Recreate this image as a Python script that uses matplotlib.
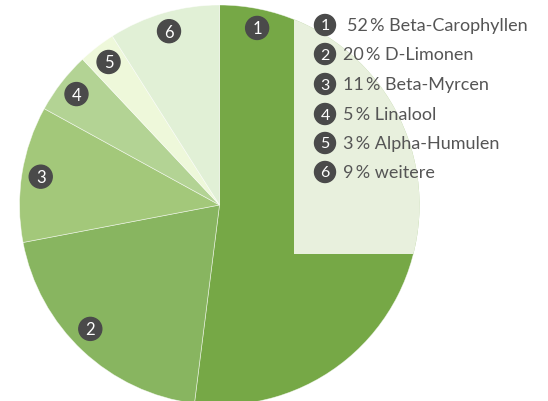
import matplotlib.pyplot as plt
from matplotlib.patches import Circle, Rectangle
import numpy as np

# terpene shares, clockwise from top
labels = ["1", "2", "3", "4", "5", "6"]
shares = [52, 20, 11, 5, 3, 9]
names = ["Beta-Carophyllen", "D-Limonen", "Beta-Myrcen", "Linalool",
         "Alpha-Humulen", "weitere"]
colors = ["#76a846", "#88b560", "#a3c87a", "#b3d394", "#eef8da", "#e1f0d6"]

W, H = 548, 402
cx, cy, R = 219.5, H - 206, 200
dark = "#4a4a4a"
plt.rcParams['font.family'] = ['Lato', 'DejaVu Sans']

fig = plt.figure(figsize=(W / 100, H / 100), dpi=100)
ax = fig.add_axes([0, 0, 1, 1])

wedges, _ = ax.pie(shares, colors=colors, startangle=90, counterclock=False,
                   center=(cx, cy), radius=R,
                   wedgeprops=dict(edgecolor="#ffffff99", linewidth=0.5))

# light legend panel, only visible inside the pie
clip = Circle((cx, cy), R, transform=ax.transData)
panel = Rectangle((294, H - 255), W - 294, 255, facecolor="#e8f0dd",
                  edgecolor="none", zorder=3)
ax.add_patch(panel)
panel.set_clip_path(clip)

# numbered markers on the wedges
for i, w in enumerate(wedges):
    mid = (w.theta1 + w.theta2) / 2
    if i == 0:
        mid = w.theta2 - 12  # keep the first marker clear of the panel
    if i == 1:
        mid -= 3
    r = 0.905 * R if i != 1 else 0.895 * R
    x = cx + r * np.cos(np.radians(mid))
    y = cy + r * np.sin(np.radians(mid))
    ax.add_patch(Circle((x, y), 11.5, color=dark, zorder=4))
    ax.text(x, y - 0.5, labels[i], color="white", fontsize=12,
            ha="center", va="center", zorder=5)

# legend
row_y = [26, 55, 85, 115, 144, 173]
for i in range(len(shares)):
    y = H - row_y[i]
    ax.add_patch(Circle((325, y), 10.5, color=dark, zorder=4))
    ax.text(325, y - 0.5, labels[i], color="white", fontsize=11.5,
            ha="center", va="center", zorder=5)
    ax.text(343 if i else 347, y, f"{shares[i]}\u2009% {names[i]}",
            color="#555555", fontsize=13,
            ha="left", va="center", zorder=5)

ax.set_xlim(0, W)
ax.set_ylim(0, H)
ax.set_aspect("equal")
ax.axis("off")
fig.savefig("out.png", dpi=100)
